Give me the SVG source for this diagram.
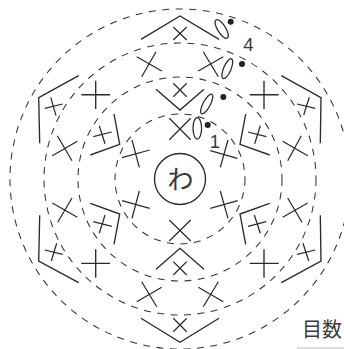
<svg xmlns="http://www.w3.org/2000/svg" width="344" height="349" viewBox="0 0 344 349">
<style>
.r{fill:none;stroke:#333;stroke-width:1.05;stroke-dasharray:7 6.5}
.s{fill:none;stroke:#2a2a2a;stroke-width:1.25}
.b{fill:none;stroke:#2a2a2a;stroke-width:1.35}
.d{fill:#222}
.t{fill:#3a3a3a;font-family:"Liberation Sans","Noto Sans CJK JP",sans-serif}
</style>
<rect width="344" height="349" fill="#fff"/>
<g id="rings">
<circle class="r" cx="180" cy="179" r="170"/>
<circle class="r" cx="180" cy="179" r="136"/>
<circle class="r" cx="180" cy="179" r="102"/>
<circle class="r" cx="180" cy="179" r="65"/>
</g>
<g id="center"><circle class="b" cx="180" cy="179" r="25.5"/><text class="t" x="180.5" y="189" font-size="26" text-anchor="middle">わ</text></g>
<g id="brackets">
<path class="b" d="M141 39.3L180 16L219 39.3"/>
<path class="b" d="M156 89.3L180 110L204 89.3"/>
<path class="b" d="M156 269.3L180 248.3L204 269.3"/>
<path class="b" d="M141 318.3L180 342.3L219 318.3"/>
<path class="b" d="M78.7 75.7L38.7 97.7L39.7 143.3"/>
<path class="b" d="M114 114L119.7 144.3L90.3 155"/>
<path class="b" d="M39.7 215.3L38.7 261L78.7 282.7"/>
<path class="b" d="M114 244.3L119.7 214L90.3 203.3"/>
<path class="b" d="M281.3 75.7L321 97.7L320.3 143.3"/>
<path class="b" d="M245.7 114L240 144.3L269.7 155"/>
<path class="b" d="M320.3 215.3L321 261L281.3 282.7"/>
<path class="b" d="M245.7 244.3L240 214L269.7 203.3"/>
</g>
<g id="crosses">
<path class="s" d="M173.3 27L186.7 40M186.7 27L173.3 40"/>
<path class="s" d="M173.3 83.3L186.7 96.7M186.7 83.3L173.3 96.7"/>
<path class="s" d="M169.3 118.3L190.7 139.7M190.7 118.3L169.3 139.7"/>
<path class="s" d="M169.3 220L190.7 241M190.7 220L169.3 241"/>
<path class="s" d="M173.3 261.6L186.7 275M186.7 261.6L173.3 275"/>
<path class="s" d="M173.3 318.3L186.7 331.7M186.7 318.3L173.3 331.7"/>
<path class="s" d="M156 51.7L141.7 76.7M136.7 56.7L161.7 71"/>
<path class="s" d="M203.3 51.7L218.3 76.7M198.3 71L223.3 56.7"/>
<path class="s" d="M141.7 281.7L156.7 306.7M136.7 301.7L161.7 287.3"/>
<path class="s" d="M218.3 281.7L203.3 306.7M198.3 287.3L223.3 301.7"/>
<path class="s" d="M57.3 135.7L72 160.7M52.3 155.7L77.3 141.3"/>
<path class="s" d="M72 198L57.7 222.3M52.3 203L77.3 217.3"/>
<path class="s" d="M301.3 135.7L287.7 160.7M282.7 141.3L307.7 155.7"/>
<path class="s" d="M287.7 198L302 222.3M282.7 217.3L307.7 203"/>
<path class="s" d="M122 157.7L149.7 150M132 140L139.3 167.3"/>
<path class="s" d="M122 200.7L149.7 208.3M139.3 191L132 218.3"/>
<path class="s" d="M210.3 150.7L237.3 158.3M228 140L220.3 167.3"/>
<path class="s" d="M210.3 208.3L237.7 200.7M220.3 191L228 218.3"/>
<path class="s" d="M44.7 108.3L62.7 104M50.7 97.3L56 115.7"/>
<path class="s" d="M44.7 250L62.7 254.3M56.7 243.3L51.3 261"/>
<path class="s" d="M297 104L315.3 108.3M309.3 97.3L303.7 115"/>
<path class="s" d="M297 254.3L315.3 250M303 243.3L308.7 261"/>
<path class="s" d="M93.3 136.7L111.7 132M99.3 125.7L105 143.7"/>
<path class="s" d="M93.3 221.7L111.7 226.3M105 215L99.3 233.3"/>
<path class="s" d="M248 132L266.3 136.7M260.3 125.7L254.7 143.7"/>
<path class="s" d="M248 226.3L266.3 221.7M254.3 215L260.3 233.3"/>
<path class="b" d="M81.3 94.7H110M95.7 80.7V109"/>
<path class="b" d="M81.3 263.3H110M95.7 249.3V277.7"/>
<path class="b" d="M249.7 94.7H278.7M264 80.7V109"/>
<path class="b" d="M249.7 263.3H278.7M264 249.3V277.7"/>
</g>
<g id="chains">
<ellipse class="s" cx="221.7" cy="29" rx="10.7" ry="4" transform="rotate(58 221.7 29)"/>
<ellipse class="s" cx="227.3" cy="68.7" rx="10.7" ry="3.7" transform="rotate(-67 227.3 68.7)"/>
<ellipse class="s" cx="206.7" cy="104" rx="11" ry="3.6" transform="rotate(-62 206.7 104)"/>
<ellipse class="s" cx="197.3" cy="128.3" rx="4.3" ry="10.7"/>
<circle class="d" cx="230.7" cy="21.7" r="3"/>
<circle class="d" cx="242" cy="64" r="3"/>
<circle class="d" cx="223.3" cy="97" r="3"/>
<circle class="d" cx="207.7" cy="125" r="3"/>
</g>
<g id="labels">
<text class="t" x="248.3" y="50.5" font-size="18.5" text-anchor="middle">4</text>
<text class="t" x="215" y="148.3" font-size="18.5" text-anchor="middle">1</text>
<text class="t" x="302" y="337" font-size="20">目数</text>
<path d="M297 348H344" stroke="#bbb" stroke-width="1"/>
</g>
</svg>
